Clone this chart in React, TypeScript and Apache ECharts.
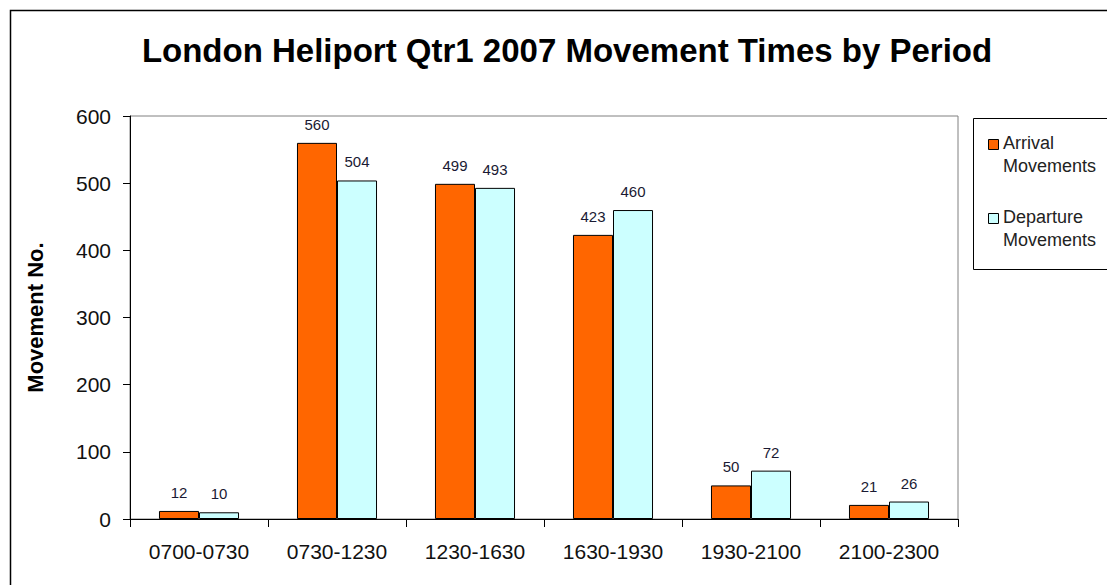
import React, { useEffect, useRef } from "react";
import * as echarts from "echarts";

const categories = ["0700-0730", "0730-1230", "1230-1630", "1630-1930", "1930-2100", "2100-2300"];
const arrivals = [12, 560, 499, 423, 50, 21];
const departures = [10, 504, 493, 460, 72, 26];
const seriesNames = ["Arrival\nMovements", "Departure\nMovements"];
const seriesColors = ["#ff6600", "#ccffff"];
const titleText = "London Heliport Qtr1 2007 Movement Times by Period";
const yAxisTitle = "Movement No.";

const FONT = "'Liberation Sans', Arial, sans-serif";

export default function App() {
  const ref = useRef<HTMLDivElement>(null);
  useEffect(() => {
    if (!ref.current) return;
    const chart = echarts.init(ref.current, undefined, { renderer: "svg" });
    const labelStyle = {
      show: true,
      position: "top" as const,
      distance: 11,
      fontFamily: FONT,
      fontSize: 15,
      color: "#1a1a33",
    };
    const legendItems: any[] = [];
    const legendTops = [131, 205];
    seriesNames.forEach((name, i) => {
      legendItems.push({
        type: "rect",
        shape: { x: 988.5, y: legendTops[i] + 8.5, width: 10, height: 10 },
        style: { fill: seriesColors[i], stroke: "#000", lineWidth: 1 },
        silent: true,
      });
      legendItems.push({
        type: "text",
        x: 1003,
        y: legendTops[i],
        style: {
          text: name,
          font: `18px ${FONT}`,
          lineHeight: 23,
          fill: "#222",
          verticalAlign: "top",
          align: "left",
        },
        silent: true,
      });
    });
    chart.setOption({
      animation: false,
      backgroundColor: "#ffffff",
      title: {
        text: titleText,
        left: 562,
        top: 29,
        textAlign: "center",
        textStyle: { fontFamily: FONT, fontSize: 33, fontWeight: "bold", color: "#000" },
      },
      graphic: [
        {
          type: "rect",
          shape: { x: 10.5, y: 10.5, width: 1120, height: 600 },
          style: { fill: "none", stroke: "#000", lineWidth: 1.5 },
          silent: true,
        },
        {
          type: "rect",
          shape: { x: 973.5, y: 118.5, width: 150, height: 151 },
          style: { fill: "#fff", stroke: "#000", lineWidth: 1 },
          silent: true,
        },
        ...legendItems,
      ],
      grid: {
        left: 130,
        top: 116,
        width: 828,
        height: 403,
        show: true,
        borderColor: "#808080",
        borderWidth: 1,
        backgroundColor: "#fff",
      },
      xAxis: {
        type: "category",
        data: categories,
        axisLine: { lineStyle: { color: "#000", width: 1 } },
        axisTick: { show: true, length: 8, alignWithLabel: false, lineStyle: { color: "#000" } },
        axisLabel: { fontFamily: FONT, fontSize: 21, color: "#111", margin: 22 },
        splitLine: { show: false },
      },
      yAxis: {
        type: "value",
        min: 0,
        max: 600,
        interval: 100,
        name: yAxisTitle,
        nameLocation: "middle",
        nameGap: 84,
        nameRotate: 90,
        nameTextStyle: { fontFamily: FONT, fontSize: 22, fontWeight: "bold", color: "#000" },
        axisLine: { show: true, lineStyle: { color: "#000", width: 1 } },
        axisTick: { show: true, length: 7, lineStyle: { color: "#000" } },
        axisLabel: { fontFamily: FONT, fontSize: 21, color: "#111", margin: 19 },
        splitLine: { show: false },
      },
      series: [
        {
          name: seriesNames[0],
          type: "bar",
          data: arrivals,
          barGap: "0%",
          barCategoryGap: "42%",
          itemStyle: { color: seriesColors[0], borderColor: "#000", borderWidth: 1 },
          label: labelStyle,
        },
        {
          name: seriesNames[1],
          type: "bar",
          data: departures,
          barGap: "0%",
          barCategoryGap: "42%",
          itemStyle: { color: seriesColors[1], borderColor: "#000", borderWidth: 1 },
          label: labelStyle,
        },
      ],
    });
    return () => chart.dispose();
  }, []);
  return (
    <div
      ref={ref}
      style={{ position: "fixed", left: 0, top: 0, width: 1107, height: 585 }}
    />
  );
}
